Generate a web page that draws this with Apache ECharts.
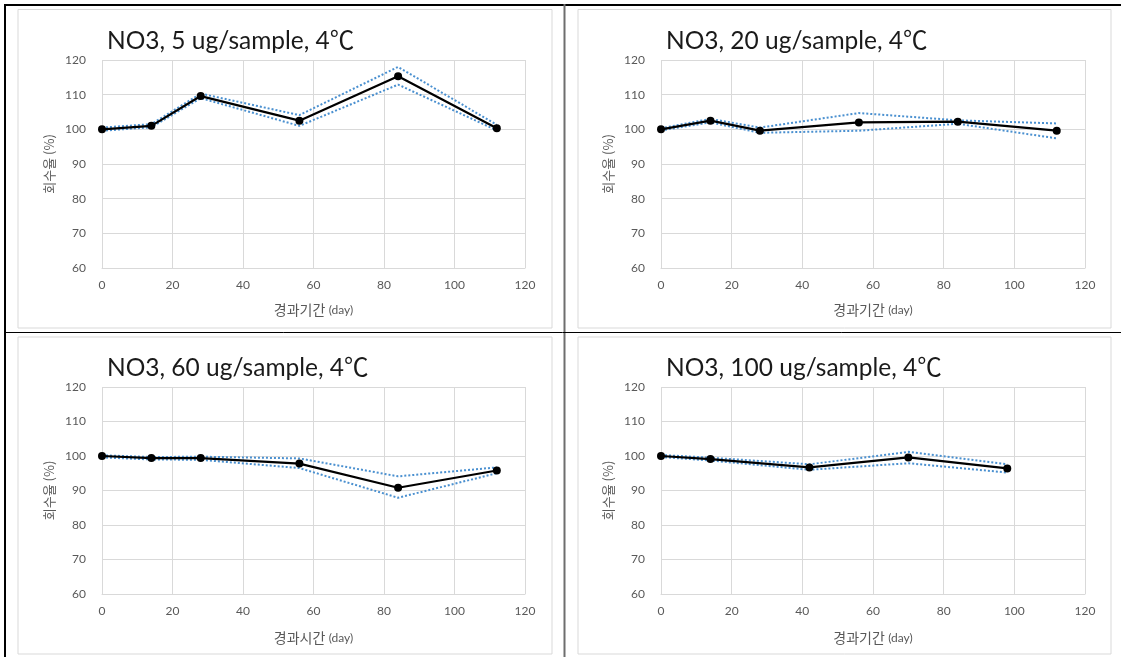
<!DOCTYPE html>
<html>
<head>
<meta charset="utf-8">
<script src="https://cdn.jsdelivr.net/npm/echarts@6/dist/echarts.min.js"></script>
<style>
html,body{margin:0;padding:0;background:#fff;}
#c{width:1121px;height:657px;}
</style>
</head>
<body>
<div id="c"></div>
<script>
// ---- data ----
var titles = ['NO3, 5 ug/sample, 4\u2103', 'NO3, 20 ug/sample, 4\u2103', 'NO3, 60 ug/sample, 4\u2103', 'NO3, 100 ug/sample, 4\u2103'];
var xNames = ['경과기간', '경과기간', '경과시간', '경과기간'];
var yName = '회수율 (%)';
var xTicks = [0, 20, 40, 60, 80, 100, 120];
var yTicks = [60, 70, 80, 90, 100, 110, 120];

var days5 = [0, 14, 28, 56, 84, 112];
var mean5 = [100, 101, 109.6, 102.5, 115.3, 100.3];
var upper5 = [100.5, 101.5, 110.3, 104.1, 118, 101.3];
var lower5 = [99.6, 100.6, 109, 101, 112.9, 99.7];

var days20 = [0, 14, 28, 56, 84, 112];
var mean20 = [100, 102.5, 99.6, 102, 102.2, 99.6];
var upper20 = [100.3, 103, 100.5, 104.7, 102.6, 101.7];
var lower20 = [99.7, 102, 99, 99.6, 101.6, 97.4];

var days60 = [0, 14, 28, 56, 84, 112];
var mean60 = [100, 99.4, 99.4, 97.8, 90.8, 95.8];
var upper60 = [100.2, 99.7, 99.8, 99.3, 94.1, 96.7];
var lower60 = [99.6, 99, 98.9, 96.5, 87.9, 95];

var days100 = [0, 14, 42, 70, 98];
var mean100 = [100, 99.1, 96.7, 99.6, 96.4];
var upper100 = [100.3, 99.5, 97.6, 101.2, 97.6];
var lower100 = [99.7, 98.7, 96, 97.9, 95.2];

// ---- layout ----
var panels = [
  {days: days5, mean: mean5, upper: upper5, lower: lower5},
  {days: days20, mean: mean20, upper: upper20, lower: lower20},
  {days: days60, mean: mean60, upper: upper60, lower: lower60},
  {days: days100, mean: mean100, upper: upper100, lower: lower100}
];
var grids = [
  {left: 102, top: 60, width: 423, height: 208},
  {left: 661, top: 60, width: 424, height: 208},
  {left: 102, top: 387, width: 423, height: 207},
  {left: 661, top: 387, width: 424, height: 207}
];
var xNameGaps = [35, 35, 37, 37];
var boxes = [
  {x: 18, y: 9.5, w: 534, h: 318.5},
  {x: 578, y: 9.5, w: 533, h: 318.5},
  {x: 18, y: 337, w: 534, h: 317},
  {x: 578, y: 337, w: 533, h: 317}
];
var titlePos = [
  {left: 102, top: 24},
  {left: 661, top: 24},
  {left: 102, top: 351},
  {left: 661, top: 351}
];

function pairs(xs, ys) {
  return xs.map(function (x, i) { return [x, ys[i]]; });
}

var FONT = 'Lato, "Noto Sans CJK KR", sans-serif';
var KFONT = '"Noto Sans CJK KR", sans-serif';

var option = {
  backgroundColor: '#fff',
  animation: false,
  title: [],
  grid: [],
  xAxis: [],
  yAxis: [],
  series: [],
  graphic: []
};

// table borders and chart boxes
boxes.forEach(function (b) {
  option.graphic.push({type: 'rect', shape: {x: b.x, y: b.y, width: b.w, height: b.h}, style: {fill: '#fff', stroke: '#d9d9d9', lineWidth: 1}, z: -10});
});
option.graphic.push({type: 'line', shape: {x1: 4, y1: 5, x2: 1121, y2: 5}, style: {stroke: '#000', lineWidth: 2}});
option.graphic.push({type: 'line', shape: {x1: 5, y1: 4, x2: 5, y2: 657}, style: {stroke: '#000', lineWidth: 2}});
option.graphic.push({type: 'line', shape: {x1: 564.5, y1: 4, x2: 564.5, y2: 657}, style: {stroke: '#6e6e6e', lineWidth: 2}});
option.graphic.push({type: 'line', shape: {x1: 4, y1: 332.5, x2: 1121, y2: 332.5}, style: {stroke: '#000', lineWidth: 1}});

panels.forEach(function (p, i) {
  option.title.push({
    text: titles[i], left: titlePos[i].left, top: titlePos[i].top,
    textStyle: {fontFamily: FONT, fontSize: 24.5, fontWeight: 'normal', color: '#1a1a1a'}
  });
  option.grid.push(grids[i]);
  option.xAxis.push({
    type: 'value', gridIndex: i, min: xTicks[0], max: xTicks[xTicks.length - 1], interval: 20,
    name: '{k|' + xNames[i] + '} {e|(day)}', nameLocation: 'middle', nameGap: xNameGaps[i],
    nameTextStyle: {rich: {k: {fontFamily: KFONT, fontSize: 14, color: '#595959'}, e: {fontFamily: FONT, fontSize: 12, color: '#595959'}}},
    axisLine: {show: true, lineStyle: {color: '#d9d9d9', width: 1}},
    axisTick: {show: false},
    axisLabel: {fontFamily: FONT, fontSize: 12, color: '#595959', margin: 11},
    splitLine: {show: true, lineStyle: {color: '#d9d9d9', width: 1}}
  });
  option.yAxis.push({
    type: 'value', gridIndex: i, min: yTicks[0], max: yTicks[yTicks.length - 1], interval: 10,
    name: yName, nameLocation: 'middle', nameGap: 46, nameRotate: 90,
    nameTextStyle: {fontFamily: KFONT, fontSize: 13, color: '#595959'},
    axisLine: {show: false},
    axisTick: {show: false},
    axisLabel: {fontFamily: FONT, fontSize: 12, color: '#595959', margin: 16},
    splitLine: {show: true, lineStyle: {color: '#d9d9d9', width: 1}}
  });
  [p.upper, p.lower].forEach(function (arr) {
    option.series.push({
      type: 'line', xAxisIndex: i, yAxisIndex: i, data: pairs(p.days, arr),
      symbol: 'none', silent: true, z: 2,
      lineStyle: {color: '#4a90d0', width: 2, type: [2, 2]}
    });
  });
  option.series.push({
    type: 'line', xAxisIndex: i, yAxisIndex: i, data: pairs(p.days, p.mean),
    symbol: 'circle', symbolSize: 8, z: 3,
    itemStyle: {color: '#000'},
    lineStyle: {color: '#000', width: 2.25}
  });
});

var chart = echarts.init(document.getElementById('c'), null, {renderer: 'canvas'});
chart.setOption(option);
</script>
</body>
</html>
